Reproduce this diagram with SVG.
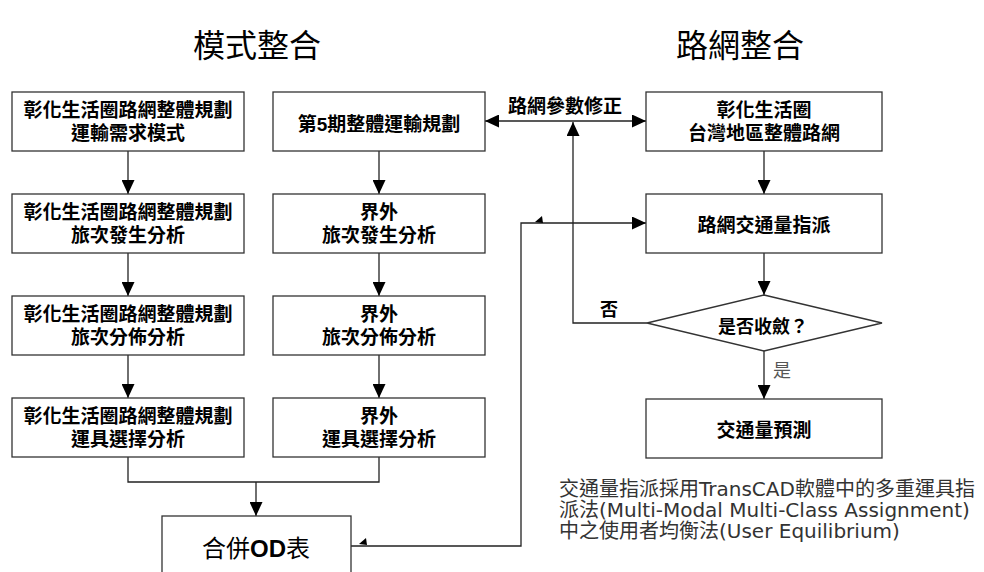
<svg xmlns="http://www.w3.org/2000/svg" width="984" height="572" viewBox="0 0 984 572">
<style>
.box{fill:#fff;stroke:#333;stroke-width:1.3}
.ln{fill:none;stroke:#222;stroke-width:1.3}
.t{font-family:"Liberation Sans","Noto Sans CJK TC",sans-serif;font-weight:bold;font-size:19px;fill:#000;text-anchor:middle}
.title{font-family:"Noto Sans CJK TC",sans-serif;font-size:32px;fill:#000;text-anchor:middle}
.note{font-family:"DejaVu Sans","Noto Sans CJK TC",sans-serif;font-size:20px;fill:#333}
</style>
<defs>
<marker id="ah" markerWidth="14" markerHeight="13" refX="14" refY="6.5" orient="auto" markerUnits="userSpaceOnUse">
<path d="M0,0 L14,6.5 L0,13 Z" fill="#000"/>
</marker>
<marker id="ahs" markerWidth="14" markerHeight="13" refX="0" refY="6.5" orient="auto" markerUnits="userSpaceOnUse">
<path d="M14,0 L0,6.5 L14,13 Z" fill="#000"/>
</marker>
</defs>
<rect width="984" height="572" fill="#fff"/>
<g id="titles">
<text class="title" x="257" y="57">模式整合</text>
<text class="title" x="740" y="57">路網整合</text>
</g>
<g id="connectors">
<path class="ln" d="M128,151 V194" marker-end="url(#ah)"/>
<path class="ln" d="M128,253 V296" marker-end="url(#ah)"/>
<path class="ln" d="M128,355 V398" marker-end="url(#ah)"/>
<path class="ln" d="M379,151 V194" marker-end="url(#ah)"/>
<path class="ln" d="M379,253 V296" marker-end="url(#ah)"/>
<path class="ln" d="M379,355 V398" marker-end="url(#ah)"/>
<path class="ln" d="M128,457 V482 H379 V457"/>
<path class="ln" d="M256,482 V516" marker-end="url(#ah)"/>
<path class="ln" d="M485,121 H646" marker-start="url(#ahs)" marker-end="url(#ah)"/>
<path class="ln" d="M764,151 V194" marker-end="url(#ah)"/>
<path class="ln" d="M764,253 V295" marker-end="url(#ah)"/>
<path class="ln" d="M764,351 V399" marker-end="url(#ah)"/>
<path class="ln" d="M647,323 H573 V122" marker-end="url(#ah)"/>
<path class="ln" d="M351,546 H521 V223 H646" marker-end="url(#ah)"/>
<polygon points="535,222 542,216 543,223" fill="#000"/>
<polygon points="359,544 366,538 367,545" fill="#000"/>
<text class="t" x="565" y="113">路網參數修正</text>
<text class="t" x="609" y="316" style="font-size:18px">否</text>
<text x="773" y="377" style="font-family:'Noto Sans CJK TC',sans-serif;font-size:18px;fill:#555">是</text>
</g>
<g id="n1"><rect class="box" x="12" y="92" width="232" height="59"/>
<text class="t" x="128" y="117">彰化生活圈路網整體規劃</text><text class="t" x="128" y="140">運輸需求模式</text></g>
<g id="n2"><rect class="box" x="12" y="194" width="232" height="59"/>
<text class="t" x="128" y="219">彰化生活圈路網整體規劃</text><text class="t" x="128" y="242">旅次發生分析</text></g>
<g id="n3"><rect class="box" x="12" y="296" width="232" height="59"/>
<text class="t" x="128" y="321">彰化生活圈路網整體規劃</text><text class="t" x="128" y="344">旅次分佈分析</text></g>
<g id="n4"><rect class="box" x="12" y="398" width="232" height="59"/>
<text class="t" x="128" y="423">彰化生活圈路網整體規劃</text><text class="t" x="128" y="446">運具選擇分析</text></g>
<g id="m1"><rect class="box" x="273" y="92" width="212" height="59"/>
<text class="t" x="379" y="131">第5期整體運輸規劃</text></g>
<g id="m2"><rect class="box" x="273" y="194" width="212" height="59"/>
<text class="t" x="379" y="219">界外</text><text class="t" x="379" y="242">旅次發生分析</text></g>
<g id="m3"><rect class="box" x="273" y="296" width="212" height="59"/>
<text class="t" x="379" y="321">界外</text><text class="t" x="379" y="344">旅次分佈分析</text></g>
<g id="m4"><rect class="box" x="273" y="398" width="212" height="59"/>
<text class="t" x="379" y="423">界外</text><text class="t" x="379" y="446">運具選擇分析</text></g>
<g id="od"><rect class="box" x="162" y="516" width="189" height="80"/>
<text x="256" y="557" style="font-family:'Liberation Sans','Noto Sans CJK TC',sans-serif;font-size:24px;fill:#000;text-anchor:middle">合併<tspan font-weight="bold">OD</tspan>表</text></g>
<g id="r1"><rect class="box" x="646" y="92" width="236" height="59"/>
<text class="t" x="764" y="117">彰化生活圈</text><text class="t" x="764" y="140">台灣地區整體路網</text></g>
<g id="r2"><rect class="box" x="646" y="194" width="236" height="59"/>
<text class="t" x="764" y="232">路網交通量指派</text></g>
<g id="d1"><polygon class="box" points="764,295 882,323 764,351 647,323"/>
<text class="t" x="763" y="333" style="font-size:18px">是否收斂？</text></g>
<g id="r3"><rect class="box" x="646" y="399" width="236" height="59"/>
<text class="t" x="764" y="437">交通量預測</text></g>
<g id="note">
<text class="note" x="559" y="496">交通量指派採用TransCAD軟體中的多重運具指</text>
<text class="note" x="559" y="517">派法(Multi-Modal Multi-Class Assignment)</text>
<text class="note" x="559" y="538">中之使用者均衡法(User Equilibrium)</text>
</g>
</svg>
